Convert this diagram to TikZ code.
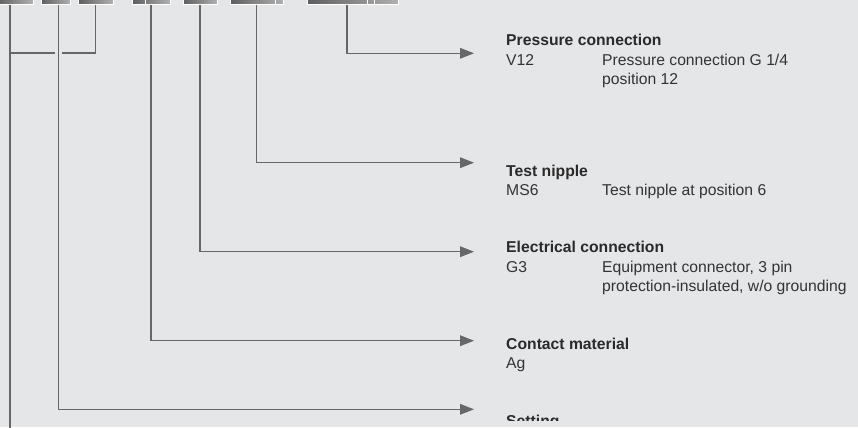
\documentclass[tikz,border=0pt]{standalone}
\usepackage{fontspec}
\setmainfont{Liberation Sans}
\usepackage{tikz}
\usetikzlibrary{arrows.meta,positioning,calc,fit}
\definecolor{KSBack}{HTML}{E5E6E8}
\definecolor{KSLine}{HTML}{676767}
\definecolor{KSDark}{HTML}{5E5E5E}
\definecolor{KSLight}{HTML}{B0B0B0}
\definecolor{KSInk}{HTML}{2A2A2A}
\definecolor{KSText}{HTML}{333333}
\tikzset{
  lead/.style={KSLine,line width=.38mm},
  flow/.style={lead,-{Triangle[length=4.2mm,width=3.2mm]}},
  bridge/.style={preaction={draw=KSBack,line width=2.1mm,-}},
  tab/.style={draw=white,line width=.3mm,left color=KSDark,right color=KSLight,inner sep=0pt},
  divider/.style={white,line width=.3mm},
  head/.style={text=KSInk,font=\fontsize{13.4}{16}\selectfont\bfseries,inner sep=0pt,anchor=base west},
  body/.style={text=KSText,font=\fontsize{13.4}{16}\selectfont,inner sep=0pt,anchor=base west},
}
\begin{document}
\begin{tikzpicture}[x=.3mm,y=-.3mm]
    % page of 858 x 427 px, y runs downwards
    \fill[KSBack] (0,0) rectangle (858,427);
    \useasboundingbox (0,0) rectangle (858,427);
    \clip (0,0) rectangle (858,427);

    % --- order code tabs, cut by the top edge ---
    \node[tab,fit={(-4,-4) (33,4.5)}] (b1) {};
    \node[tab,fit={(41,-4) (70,4.5)}] (b2) {};
    \node[tab,fit={(78,-4) (113,4.5)}] (b3) {};
    \node[tab,fit={(132,-4) (170,4.5)}] (b4) {};
    \node[tab,fit={(183,-4) (217,4.5)}] (b5) {};
    \node[tab,fit={(230,-4) (283,4.5)}] (b6) {};
    \node[tab,fit={(307,-4) (398,4.5)}] (b7) {};
    \foreach \x in {145,275,367,374}{
      \draw[divider] (\x,-4)--(\x,4.5);
    }

    % --- arrow tips ---
    \coordinate (tPress) at (474,53.3);
    \coordinate (tTest) at (474,162.7);
    \coordinate (tElec) at (474,251.7);
    \coordinate (tCont) at (474,340.7);
    \coordinate (tSet) at (474,409.3);
    \coordinate (tNext) at (10,440);
    \coordinate (join) at (10,53);

    % --- leads ---
    \draw[lead] ($(b1.south)+(-4.5,0)$) -- (tNext);
    \draw[lead] (b3.south) |- (join);
    \draw[flow,bridge] ($(b2.south)+(3,0)$) |- (tSet);
    \draw[flow] (b4.south) |- (tCont);
    \draw[flow] (b5.south) |- (tElec);
    \draw[flow] (b6.south) |- (tTest);
    \draw[flow] ($(b7.south)+(-5.5,0)$) |- (tPress);

    % --- pressure connection ---
    \node[head] (pcHead) at (506,45) {Pressure connection};
    \node[body] (pcCode) at (506,65) {V12};
    \node[body] (pcText) at (602,65) {Pressure connection G 1/4};
    \node[body] (pcMore) at (602,84) {position 12};

    % --- test nipple ---
    \node[head] (tnHead) at (506,176) {Test nipple};
    \node[body] (tnCode) at (506,195) {MS6};
    \node[body] (tnText) at (602,195) {Test nipple at position 6};

    % --- electrical connection ---
    \node[head] (ecHead) at (506,252.7) {Electrical connection};
    \node[body] (ecCode) at (506,272.3) {G3};
    \node[body] (ecText) at (602,272.3) {Equipment connector, 3 pin};
    \node[body] (ecMore) at (602,291.7) {protection-insulated, w/o grounding};

    % --- contact material ---
    \node[head] (cmHead) at (506,349) {Contact material};
    \node[body] (cmCode) at (506,368) {Ag};

    % --- setting, cut off below ---
    \begin{scope}
      \clip (0,0) rectangle (858,420);
      \node[head] (stHead) at (506,426.3) {Setting};
    \end{scope}
  \end{tikzpicture}
\end{document}
